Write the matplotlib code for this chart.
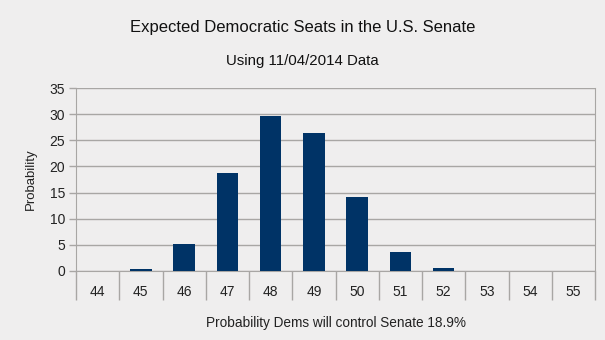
import matplotlib.pyplot as plt
import numpy as np

seats = [44, 45, 46, 47, 48, 49, 50, 51, 52, 53, 54, 55]
probability = [0.0, 0.4, 5.2, 18.7, 29.6, 26.4, 14.1, 3.6, 0.5, 0.0, 0.0, 0.0]
y_ticks = [0, 5, 10, 15, 20, 25, 30, 35]

bg = "#efeeee"
bar_color = "#003366"
line_color = "#a8a6a4"

plt.rcParams['font.family'] = ['Liberation Sans', 'DejaVu Sans']

fig = plt.figure(figsize=(6.05, 3.4), dpi=100, facecolor=bg)
ax = fig.add_axes([0.1256, 0.203, 0.858, 0.538], facecolor=bg)

x = np.arange(len(seats))
ax.bar(x, probability, width=0.5, color=bar_color, zorder=3)

ax.set_xlim(-0.5, len(seats) - 0.5)
ax.set_ylim(0, 35)
ax.set_yticks(y_ticks)
ax.yaxis.grid(True, color=line_color, linewidth=1, zorder=0)

ax.set_xticks(x)
ax.set_xticklabels([str(s) for s in seats], fontsize=10, color="#222222")
ax.set_xticks(np.arange(len(seats) + 1) - 0.5, minor=True)
ax.tick_params(axis='x', which='major', length=0, pad=10)
ax.tick_params(axis='x', which='minor', length=21, width=1, color=line_color)
ax.tick_params(axis='y', length=5, width=1, color=line_color, labelsize=10,
               labelcolor="#222222", pad=3)

for side in ['left', 'right', 'bottom']:
    ax.spines[side].set_color(line_color)
ax.spines['top'].set_visible(False)

ax.set_ylabel("Probability", fontsize=9.5, color="#222222", labelpad=9)
ax.set_xlabel("Probability Dems will control Senate 18.9%", fontsize=9.8,
              color="#222222", labelpad=8)

fig.text(0.5, 0.918, "Expected Democratic Seats in the U.S. Senate", ha='center',
         va='center', fontsize=12, color="#111111")
fig.text(0.5, 0.82, "Using 11/04/2014 Data", ha='center', va='center',
         fontsize=10.8, color="#111111")

fig.savefig("out.png", dpi=100, facecolor=bg)
